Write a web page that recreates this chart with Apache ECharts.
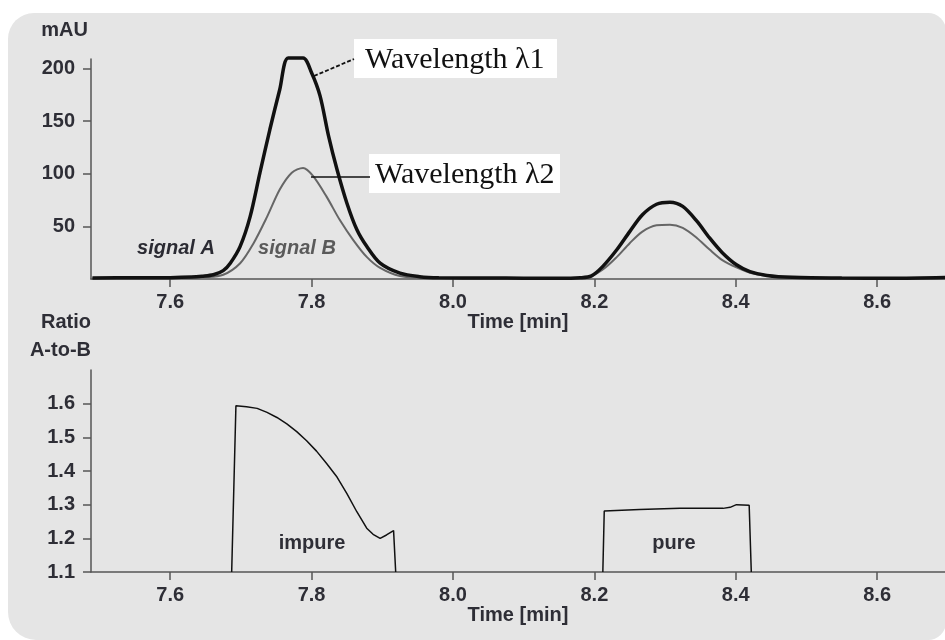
<!DOCTYPE html>
<html>
<head>
<meta charset="utf-8">
<script src="https://cdn.jsdelivr.net/npm/echarts@6/dist/echarts.min.js"></script>
<style>
  html, body { margin: 0; padding: 0; background: #fff; }
  #chart { width: 945px; height: 640px; }
</style>
</head>
<body>
<div id="chart"></div>
<script>
// signal A (wavelength λ1), mAU
var timeA = [7.49, 7.55, 7.60, 7.63, 7.645, 7.661, 7.675, 7.685, 7.699, 7.713, 7.727, 7.741, 7.755, 7.767, 7.788,
  7.800, 7.812, 7.824, 7.836, 7.850, 7.864, 7.878, 7.897, 7.925, 7.953, 7.98, 8.05, 8.10, 8.15, 8.18,
  8.196, 8.212, 8.232, 8.250, 8.268, 8.288, 8.307, 8.325, 8.345, 8.363, 8.381, 8.401, 8.420, 8.444, 8.48, 8.55, 8.62, 8.696];
var signalA = [1, 1.2, 1.3, 1.8, 2.6, 4, 8, 15, 31, 59, 101, 142, 180, 210, 210,
  196, 174, 136, 104, 72, 47, 31, 15, 5.5, 2.2, 1.2, 1, 0.8, 0.6, 1.2,
  3, 12, 28, 45, 61, 71, 73, 69, 55, 39, 25, 13.5, 7, 3.4, 1.6, 0.9, 0.8, 1.5];

// signal B (wavelength λ2), mAU
var timeB = [7.49, 7.60, 7.65, 7.675, 7.699, 7.718, 7.737, 7.755, 7.772, 7.788, 7.802, 7.821, 7.840, 7.859, 7.878,
  7.897, 7.925, 7.96, 8.10, 8.19, 8.212, 8.232, 8.250, 8.268, 8.288, 8.307, 8.325, 8.345, 8.363, 8.381,
  8.401, 8.420, 8.444, 8.50, 8.696];
var signalB = [0.8, 1, 1.8, 4, 15, 34, 59, 85, 101, 105.5, 98, 78.5, 56, 37, 21,
  10.5, 2.8, 1, 0.8, 1.5, 9, 21, 34, 45, 51, 51.6, 48.5, 39, 28, 18,
  11, 6, 3, 1, 1];

// ratio A-to-B (null = no ratio computed)
var timeRatio = [7.687, 7.693, 7.708, 7.723, 7.737, 7.751, 7.765, 7.779, 7.793, 7.807, 7.821, 7.836, 7.850, 7.864,
  7.878, 7.887, 7.897, 7.906, 7.916, 7.919, 8.05,
  8.212, 8.214, 8.264, 8.321, 8.382, 8.392, 8.401, 8.419, 8.422];
var ratio = [1.1, 1.594, 1.591, 1.586, 1.574, 1.559, 1.540, 1.517, 1.490, 1.459, 1.423, 1.382, 1.333, 1.279,
  1.230, 1.212, 1.200, 1.210, 1.223, 1.1, null,
  1.1, 1.281, 1.286, 1.289, 1.289, 1.292, 1.300, 1.298, 1.1];

var timeTicks = [7.6, 7.8, 8.0, 8.2, 8.4, 8.6];
var mauTicks = [50, 100, 150, 200];
var ratioTicks = [1.1, 1.2, 1.3, 1.4, 1.5, 1.6];

function pairs(xs, ys) {
  return xs.map(function (x, i) { return [x, ys[i] == null ? '-' : ys[i]]; });
}

var font = 'Liberation Sans, Arial, sans-serif';
var serif = '30px "Liberation Serif", "Times New Roman", serif';
var axisColor = '#555';
var labelStyle = { fontSize: 20, fontWeight: 'bold', color: '#2e2e36', fontFamily: font };

function timeAxis(gridIndex) {
  return {
    gridIndex: gridIndex,
    type: 'value',
    min: 7.488,
    max: 8.696,
    axisLine: { onZero: false, lineStyle: { color: axisColor, width: 1.5 } },
    axisTick: { customValues: timeTicks, length: 8, lineStyle: { color: axisColor, width: 1.5 } },
    axisLabel: Object.assign({ customValues: timeTicks, margin: 13, formatter: function (v) { return v.toFixed(1); } }, labelStyle),
    splitLine: { show: false },
    name: 'Time [min]',
    nameLocation: 'middle',
    nameGap: 31,
    nameTextStyle: labelStyle
  };
}

var myChart = echarts.init(document.getElementById('chart'));
var option = {
  animation: false,
  backgroundColor: '#fff',
  graphic: [
    { type: 'rect', z: -10, silent: true,
      shape: { x: 8, y: 13, width: 938, height: 627, r: [26, 18, 18, 28] },
      style: { fill: '#e5e5e5' } },
    // callouts
    { type: 'rect', z: 100, shape: { x: 354, y: 39, width: 203, height: 39 }, style: { fill: '#fff' } },
    { type: 'text', z: 101, x: 365, y: 60,
      style: { text: 'Wavelength λ1', font: serif, fill: '#111', verticalAlign: 'middle' } },
    { type: 'line', z: 100, shape: { x1: 314, y1: 76, x2: 354, y2: 59 },
      style: { stroke: '#111', lineWidth: 1.8, lineDash: [4, 2] } },
    { type: 'rect', z: 100, shape: { x: 369, y: 154, width: 191, height: 39 }, style: { fill: '#fff' } },
    { type: 'text', z: 101, x: 375, y: 175,
      style: { text: 'Wavelength λ2', font: serif, fill: '#111', verticalAlign: 'middle' } },
    { type: 'line', z: 100, shape: { x1: 311, y1: 177, x2: 370, y2: 177 },
      style: { stroke: '#111', lineWidth: 1.5 } },
    // signal labels
    { type: 'text', z: 100, x: 176, y: 248,
      style: { text: 'signal A', font: 'italic bold 20px ' + font, fill: '#2b2b33', align: 'center', verticalAlign: 'middle' } },
    { type: 'text', z: 100, x: 297, y: 248,
      style: { text: 'signal B', font: 'italic bold 20px ' + font, fill: '#5a5a5a', align: 'center', verticalAlign: 'middle' } },
    { type: 'text', z: 100, x: 312, y: 543,
      style: { text: 'impure', font: 'bold 20px ' + font, fill: '#2e2e36', align: 'center', verticalAlign: 'middle' } },
    { type: 'text', z: 100, x: 674, y: 543,
      style: { text: 'pure', font: 'bold 20px ' + font, fill: '#2e2e36', align: 'center', verticalAlign: 'middle' } }
  ],
  grid: [
    { left: 91, right: 0, top: 59, height: 220 },
    { left: 91, right: 0, top: 370, height: 202 }
  ],
  xAxis: [timeAxis(0), timeAxis(1)],
  yAxis: [
    {
      gridIndex: 0, type: 'value', min: 0, max: 209,
      axisLine: { show: true, lineStyle: { color: axisColor, width: 1.5 } },
      axisTick: { show: true, customValues: mauTicks, length: 8, lineStyle: { color: axisColor, width: 1.5 } },
      axisLabel: Object.assign({ customValues: mauTicks, margin: 16 }, labelStyle),
      splitLine: { show: false },
      name: 'mAU', nameLocation: 'end', nameGap: 29,
      nameTextStyle: Object.assign({ align: 'right', verticalAlign: 'middle', padding: [0, 3, 0, 0] }, labelStyle)
    },
    {
      gridIndex: 1, type: 'value', min: 1.1, max: 1.7,
      axisLine: { show: true, lineStyle: { color: axisColor, width: 1.5 } },
      axisTick: { show: true, customValues: ratioTicks, length: 8, lineStyle: { color: axisColor, width: 1.5 } },
      axisLabel: Object.assign({ customValues: ratioTicks, margin: 16, formatter: function (v) { return v.toFixed(1); } }, labelStyle),
      splitLine: { show: false },
      name: 'Ratio\nA-to-B', nameLocation: 'end', nameGap: 34,
      nameTextStyle: Object.assign({ align: 'right', verticalAlign: 'middle', lineHeight: 28 }, labelStyle)
    }
  ],
  series: [
    {
      name: 'signal B', type: 'line', xAxisIndex: 0, yAxisIndex: 0,
      data: pairs(timeB, signalB), showSymbol: false, smooth: 0.3, clip: false,
      lineStyle: { color: '#666', width: 2 }
    },
    {
      name: 'signal A', type: 'line', xAxisIndex: 0, yAxisIndex: 0,
      data: pairs(timeA, signalA), showSymbol: false, smooth: 0.3, clip: false,
      lineStyle: { color: '#111', width: 3.5 }
    },
    {
      name: 'ratio', type: 'line', xAxisIndex: 1, yAxisIndex: 1,
      data: pairs(timeRatio, ratio), showSymbol: false, connectNulls: false,
      lineStyle: { color: '#111', width: 1.5 }
    }
  ]
};
myChart.setOption(option);
</script>
</body>
</html>
